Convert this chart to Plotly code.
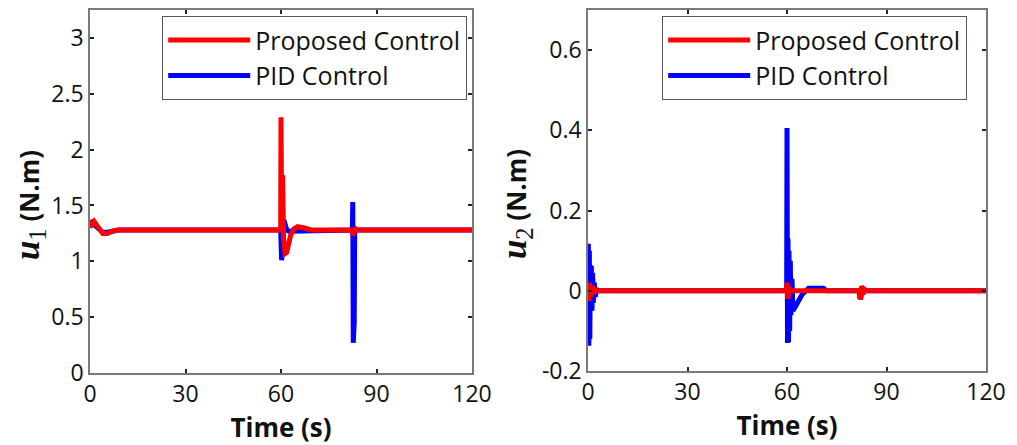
import plotly.graph_objects as go

# ---------------- data ----------------
t_u1_pid = [0, 0.5, 1.2, 2.5, 4, 5.5, 7, 9, 59.9, 60.0, 60.2, 60.5, 60.9, 61.3, 61.8, 62.5,
            64, 66, 68, 82.4, 82.55, 82.7, 82.85, 83.0, 83.15, 120]
u1_pid = [1.34, 1.35, 1.33, 1.29, 1.26, 1.26, 1.27, 1.28, 1.28, 1.15, 1.01, 1.12, 1.37, 1.33,
          1.28, 1.27, 1.27, 1.275, 1.28, 1.28, 1.53, 0.27, 1.47, 0.45, 1.28, 1.28]

t_u1_prop = [0, 0.5, 1.2, 2, 3, 4, 5.5, 7, 9, 59.9, 60.0, 60.2, 60.5, 60.8, 61.3, 61.8, 62.3,
             63, 64, 65.2, 67, 68.5, 69.5, 82.3, 82.6, 82.9, 83.6, 84.2, 120]
u1_prop = [1.30, 1.34, 1.36, 1.33, 1.28, 1.25, 1.25, 1.27, 1.28, 1.28, 2.29, 1.35, 1.77, 1.2,
           1.07, 1.08, 1.15, 1.23, 1.29, 1.31, 1.30, 1.29, 1.28, 1.28, 1.23, 1.27, 1.29, 1.28, 1.28]

t_u2_pid = [0, 0.1, 0.25, 0.4, 0.55, 0.7, 0.85, 1.0, 1.2, 1.4, 1.6, 1.9, 2.2, 2.6, 3.0,
            59.9, 60.0, 60.15, 60.3, 60.45, 60.6, 60.8, 61.0, 61.2, 61.5, 61.8, 62.5, 63.5,
            64.5, 65.5, 66.5, 71, 72, 81.8, 82.0, 82.3, 82.6, 83.0, 120]
u2_pid = [0.0, 0.117, -0.137, 0.10, -0.12, 0.06, -0.08, 0.058, -0.05, 0.045, -0.03, 0.02,
          -0.015, 0.005, 0.0,
          0.0, 0.406, -0.13, 0.13, -0.128, 0.10, -0.10, 0.075, -0.06, 0.03, -0.05, -0.04,
          -0.025, -0.01, -0.002, 0.006, 0.006, 0.0, 0.0, -0.02, -0.015, 0.005, 0.0, 0.0]

t_u2_prop = [0, 0.1, 0.3, 0.5, 0.8, 1.1, 1.5, 2.0, 2.5, 59.8, 60.0, 60.3, 60.6, 61.0,
             82.0, 82.2, 82.5, 82.9, 83.3, 84.0, 120]
u2_prop = [0.0, 0.02, -0.025, 0.02, -0.015, 0.012, -0.008, 0.004, 0.0, 0.0, 0.02, -0.02,
           0.01, 0.0, 0.0, -0.022, 0.012, -0.01, 0.004, 0.0, 0.0]

x_ticks = [0, 30, 60, 90, 120]
y1_ticks = [0, 0.5, 1, 1.5, 2, 2.5, 3]
y1_labels = ["0", "0.5", "1", "1.5", "2", "2.5", "3"]
y2_ticks = [-0.2, 0, 0.2, 0.4, 0.6]
y2_labels = ["-0.2", "0", "0.2", "0.4", "0.6"]

name_prop = "Proposed Control"
name_pid = "PID Control"

# ---------------- figure ----------------
# the page body has an 8px margin, so the figure is sized to fill the rest of the window
OFF = 8
W, H = 1017 - OFF, 445 - OFF
BLUE = "#0000ff"
RED = "#ff0000"
FONT = "Open Sans"
LW = 5


def px_x(p):
    return (p - OFF) / W


def px_y(p):
    return 1 - (p - OFF) / H


fig = go.Figure()

fig.add_trace(go.Scatter(x=t_u1_pid, y=u1_pid, mode="lines", name=name_pid,
                         line=dict(color=BLUE, width=LW), xaxis="x", yaxis="y",
                         legend="legend", legendrank=2))
fig.add_trace(go.Scatter(x=t_u1_prop, y=u1_prop, mode="lines", name=name_prop,
                         line=dict(color=RED, width=LW), xaxis="x", yaxis="y",
                         legend="legend", legendrank=1))
fig.add_trace(go.Scatter(x=t_u2_pid, y=u2_pid, mode="lines", name=name_pid,
                         line=dict(color=BLUE, width=LW), xaxis="x2", yaxis="y2",
                         legend="legend2", legendrank=2))
fig.add_trace(go.Scatter(x=t_u2_prop, y=u2_prop, mode="lines", name=name_prop,
                         line=dict(color=RED, width=LW), xaxis="x2", yaxis="y2",
                         legend="legend2", legendrank=1))

axis_common = dict(
    showgrid=False, zeroline=False, showline=True, linecolor="#7a7a7a", linewidth=1.5,
    mirror="ticks", ticks="inside", ticklen=4, tickwidth=1.5, tickcolor="#222222",
    tickfont=dict(family=FONT, size=23, color="#111111"), automargin=False,
)

x_title = dict(text="<b>Time (s)</b>", font=dict(family=FONT, size=26, color="#111111"),
               standoff=0)


def y_title(sub, standoff):
    return dict(
        text=('<span style="font-family:Liberation Serif;font-size:35px"><b><i>u</i></b>'
              '<sub>' + sub + '</sub></span><b> (N.m)</b>&nbsp;&nbsp;&nbsp;&nbsp;'),
        font=dict(family=FONT, size=26, color="#111111"), standoff=standoff)


legend_common = dict(xanchor="left", yanchor="top", bgcolor="white",
                     bordercolor="#555555", borderwidth=1.2,
                     font=dict(family=FONT, size=25, color="#111111"), itemwidth=82,
                     tracegroupgap=0)

fig.update_layout(
    width=W, height=H, paper_bgcolor="white", plot_bgcolor="white",
    margin=dict(l=0, r=0, t=0, b=0),
    showlegend=True,
    xaxis=dict(domain=[px_x(90), px_x(472)], range=[0, 120], tickvals=x_ticks,
               anchor="y", title=x_title, **axis_common),
    yaxis=dict(domain=[px_y(373), px_y(10)], range=[0, 3.25], tickvals=y1_ticks,
               ticktext=y1_labels, anchor="x", title=y_title("1", 14), **axis_common),
    xaxis2=dict(domain=[px_x(588), px_x(986)], range=[0, 120], tickvals=x_ticks,
                anchor="y2", title=x_title, **axis_common),
    yaxis2=dict(domain=[px_y(371), px_y(10)], range=[-0.2, 0.7], tickvals=y2_ticks,
                ticktext=y2_labels, anchor="x2", title=y_title("2", 8), **axis_common),
    legend=dict(x=px_x(162), y=px_y(16), **legend_common),
    legend2=dict(x=px_x(662), y=px_y(16), **legend_common),
)

fig.write_html("out.html")
